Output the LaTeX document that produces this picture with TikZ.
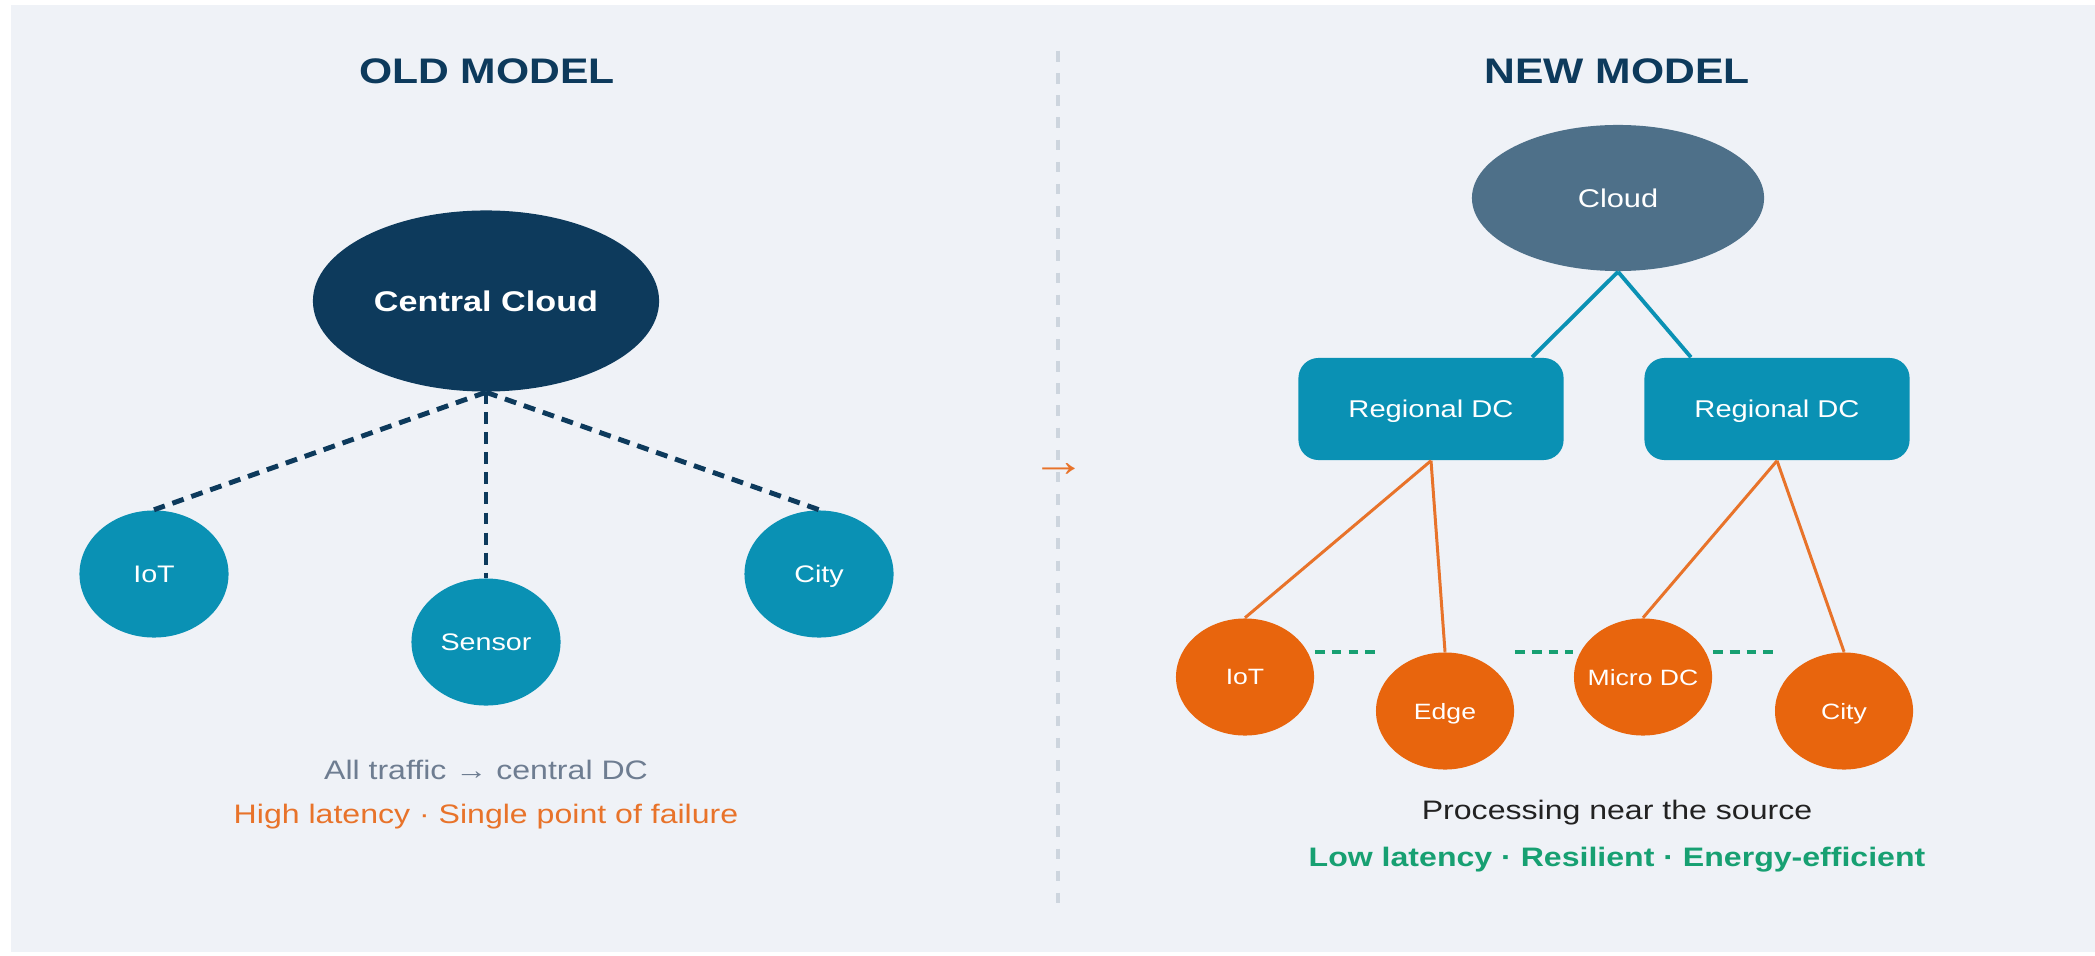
\documentclass[tikz,border=0pt]{standalone}
\usepackage{fontspec}
\setmainfont{Liberation Sans}[FakeStretch=1.2]
\usetikzlibrary{shapes.geometric}

\definecolor{pagebg}{HTML}{EFF2F7}
\definecolor{navy}{HTML}{0D3A5C}
\definecolor{tealc}{HTML}{0A91B4}
\definecolor{slate}{HTML}{4E7089}
\definecolor{orangef}{HTML}{E8650D}
\definecolor{orangel}{HTML}{E8732A}
\definecolor{greenc}{HTML}{17A072}
\definecolor{grayt}{HTML}{6E7D91}
\definecolor{divgray}{HTML}{CDD5DE}
\definecolor{darkt}{HTML}{222222}

\begin{document}
\begin{tikzpicture}[x=0.01cm,y=-0.01cm,
    title/.style={anchor=base,text=navy,font=\bfseries\fontsize{10.1}{12}\selectfont},
    caption/.style={anchor=base,font=\fontsize{7.6}{9}\selectfont},
    oldnode/.style={ellipse,fill=tealc,text=white,inner sep=0pt,text depth=0pt,
        minimum width=1.49cm,minimum height=1.27cm,font=\fontsize{6.8}{8}\selectfont},
    newnode/.style={ellipse,fill=orangef,text=white,inner ysep=0pt,inner xsep=-0.25cm,text depth=0pt,
        minimum width=1.38cm,minimum height=1.17cm,font=\fontsize{6.3}{8}\selectfont},
    regbox/.style={rectangle,rounded corners=0.2cm,fill=tealc,text=white,text depth=0pt,
        minimum width=2.65cm,minimum height=1.02cm,font=\fontsize{6.9}{8}\selectfont},
    uplink/.style={draw=navy,line width=1.4pt,dash pattern=on 3.4pt off 2.3pt},
    trunk/.style={draw=tealc,line width=1.1pt},
    branch/.style={draw=orangel,line width=0.85pt},
    peer/.style={draw=greenc,line width=0.95pt,dash pattern=on 2.8pt off 2pt}]

    \useasboundingbox (0,0) rectangle (2095,955);
    \fill[white] (0,0) rectangle (2095,955);
    \fill[pagebg] (11,5) rectangle (2095,952);

    % divider
    \coordinate (divtop) at (1058,51);
    \coordinate (divbot) at (1058,906);
    \draw[divgray,line width=1.1pt,dash pattern=on 3pt off 3.3pt] (divtop) -- (divbot);
    \node[text=orangel,font=\fontsize{13}{14}\selectfont] (shift) at (1059,470) {→};

    % old model
    \node[title] (oldtitle) at (487,84) {OLD MODEL};
    \node[ellipse,fill=navy,text=white,inner sep=0pt,text depth=0pt,minimum width=3.46cm,minimum height=1.81cm,
        font=\bfseries\fontsize{8.1}{10}\selectfont] (central) at (486,301) {Central Cloud};
    \node[oldnode] (iotA) at (154,574) {IoT};
    \node[oldnode] (sensorA) at (486,642) {Sensor};
    \node[oldnode] (cityA) at (819,574) {City};

    \draw[uplink] (central.south) -- (iotA.north);
    \draw[uplink] (central.south) -- (sensorA.north);
    \draw[uplink] (central.south) -- (cityA.north);

    \node[caption,text=grayt] (oldnote) at (486,779) {All traffic → central DC};
    \node[caption,text=orangel] (oldcons) at (486,823) {High latency · Single point of failure};

    % new model
    \node[title] (newtitle) at (1617,84) {NEW MODEL};
    \node[ellipse,fill=slate,text=white,inner sep=0pt,text depth=0pt,minimum width=2.92cm,minimum height=1.46cm,
        font=\fontsize{7.3}{9}\selectfont] (cloud) at (1618,198) {Cloud};
    \node[regbox] (rdcA) at (1431,409) {Regional DC};
    \node[regbox] (rdcB) at (1777,409) {Regional DC};

    \node[newnode] (iotB) at (1245,677) {IoT};
    \node[newnode] (edgeB) at (1445,711) {Edge};
    \node[newnode] (microB) at (1643,677) {Micro DC};
    \node[newnode] (cityB) at (1844,711) {City};

    \draw[trunk] (cloud.south) -- ([xshift=1.01cm]rdcA.north);
    \draw[trunk] (cloud.south) -- ([xshift=-0.86cm]rdcB.north);

    \draw[branch] (rdcA.south) -- (iotB.north);
    \draw[branch] (rdcA.south) -- (edgeB.north);
    \draw[branch] (rdcB.south) -- (microB.north);
    \draw[branch] (rdcB.south) -- (cityB.north);

    \coordinate (meshline) at ([yshift=0.25cm]iotB.east);
    \draw[peer] (meshline) -- (meshline -| edgeB.west);
    \draw[peer] (meshline -| edgeB.east) -- (meshline -| microB.west);
    \draw[peer] (meshline -| microB.east) -- (meshline -| cityB.west);

    \node[caption,text=darkt] (newnote) at (1617,819) {Processing near the source};
    \node[caption,text=greenc,font=\bfseries\fontsize{7.6}{9}\selectfont] (newpros) at (1617,866)
        {Low latency · Resilient · Energy-efficient};

\end{tikzpicture}
\end{document}
